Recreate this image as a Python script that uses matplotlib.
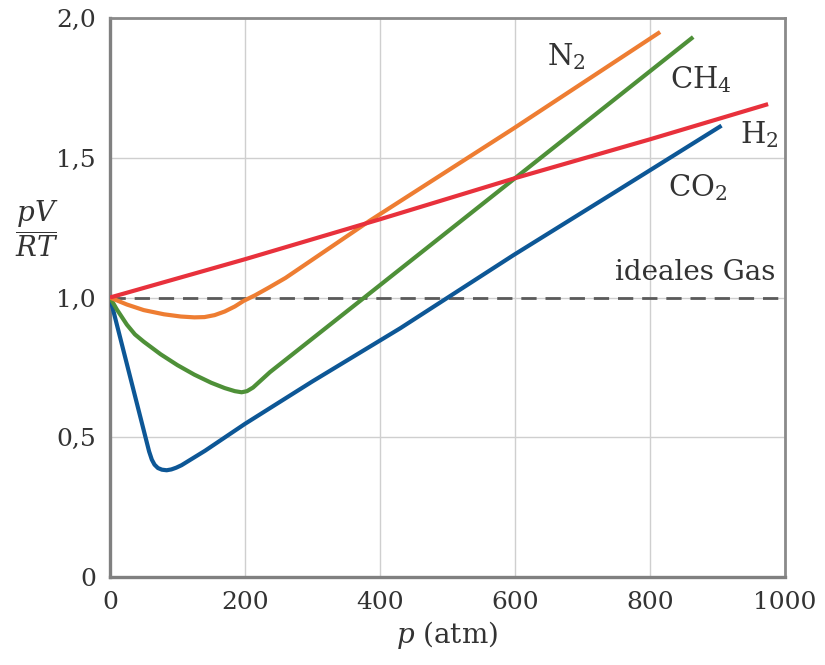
import matplotlib
matplotlib.use("Agg")
import matplotlib.pyplot as plt

plt.rcParams['font.family'] = ['DejaVu Serif']
plt.rcParams['mathtext.fontset'] = 'dejavuserif'

# Realgas-Faktor pV/RT gegen Druck p (atm)
p_h2 = [0, 200, 400, 600, 800, 975]
z_h2 = [1.0, 1.137, 1.28, 1.427, 1.566, 1.692]

p_n2 = [0, 25, 50, 80, 105, 125, 140, 155, 170, 185, 198, 215, 235, 260, 385, 598, 815]
z_n2 = [1.0, 0.975, 0.955, 0.94, 0.932, 0.929, 0.93, 0.937, 0.95, 0.968, 0.988, 1.008, 1.035, 1.07, 1.275, 1.605, 1.95]

p_ch4 = [0, 10, 25, 37, 50, 75, 100, 125, 150, 170, 185, 195, 203, 212, 237, 380, 598, 864]
z_ch4 = [1.0, 0.958, 0.903, 0.868, 0.842, 0.797, 0.758, 0.724, 0.695, 0.676, 0.665, 0.661, 0.665, 0.678, 0.733, 1.006, 1.423, 1.932]

p_co2 = [0, 30, 58, 62, 66, 71, 77, 84, 91, 98, 106, 141, 200, 300, 430, 598, 750, 906]
z_co2 = [1.0, 0.715, 0.449, 0.42, 0.402, 0.39, 0.384, 0.382, 0.385, 0.391, 0.40, 0.452, 0.548, 0.70, 0.89, 1.152, 1.38, 1.615]

y_ticks = [0, 0.5, 1.0, 1.5, 2.0]
y_ticklabels = ['0', '0,5', '1,0', '1,5', '2,0']
x_ticks = [0, 200, 400, 600, 800, 1000]

fig = plt.figure(figsize=(8.25, 6.65), dpi=100)
ax = fig.add_axes([0.1333, 0.1323, 0.8182, 0.8406])

ax.set_xlim(0, 1000)
ax.set_ylim(0, 2.0)
ax.set_xticks(x_ticks)
ax.set_yticks(y_ticks)
ax.set_yticklabels(y_ticklabels)
ax.tick_params(length=0, pad=10, labelsize=18, labelcolor='#333333')

ax.grid(True, color='#cfcfcf', lw=1.0)
ax.set_axisbelow(True)

for side in ['left', 'bottom']:
    ax.spines[side].set_linewidth(2.4)
    ax.spines[side].set_color('#808080')
for side in ['top', 'right']:
    ax.spines[side].set_linewidth(2.0)
    ax.spines[side].set_color('#8a8a8a')

# ideales Gas
ax.plot([0, 1000], [1.0, 1.0], color='#5a5a5a', lw=2.0, dashes=(5.5, 3.2), zorder=2)

kw = dict(lw=3.0, solid_capstyle='butt', solid_joinstyle='round', zorder=3)
ax.plot(p_co2, z_co2, color='#0d5796', **kw)
ax.plot(p_ch4, z_ch4, color='#4e9038', **kw)
ax.plot(p_n2, z_n2, color='#ee7d32', **kw)
ax.plot(p_h2, z_h2, color='#e8313c', **kw)

tk = dict(fontsize=21, color='#333333', va='baseline', ha='left')
ax.text(647, 1.832, r'N$_\mathregular{2}$', **tk)
ax.text(829, 1.748, r'CH$_\mathregular{4}$', **tk)
ax.text(933, 1.552, r'H$_\mathregular{2}$', **tk)
ax.text(826, 1.361, r'CO$_\mathregular{2}$', **tk)
ax.text(986, 1.063, 'ideales Gas', fontsize=20, color='#333333', va='baseline', ha='right')

ax.text(-0.108, 0.624, r'$\dfrac{pV}{RT}$', transform=ax.transAxes, fontsize=20,
        color='#333333', ha='center', va='center')
ax.set_xlabel(r'$p$ (atm)', fontsize=20, color='#333333', labelpad=4)

fig.savefig('out.png', dpi=100)
